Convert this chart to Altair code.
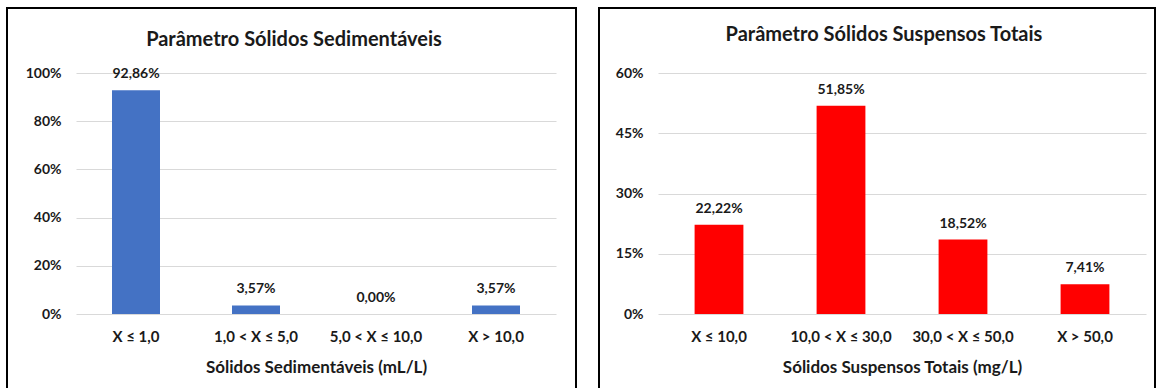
import altair as alt
import pandas as pd

# ---- data ----
title_left = "Parâmetro Sólidos Sedimentáveis"
cats_left = ["X ≤ 1,0", "1,0 < X ≤ 5,0", "5,0 < X ≤ 10,0", "X > 10,0"]
vals_left = [92.86, 3.57, 0.00, 3.57]
xtitle_left = "Sólidos Sedimentáveis (mL/L)"
yticks_left = [0, 0.2, 0.4, 0.6, 0.8, 1.0]

title_right = "Parâmetro Sólidos Suspensos Totais"
cats_right = ["X ≤ 10,0", "10,0 < X ≤ 30,0", "30,0 < X ≤ 50,0", "X > 50,0"]
vals_right = [22.22, 51.85, 18.52, 7.41]
xtitle_right = "Sólidos Suspensos Totais (mg/L)"
yticks_right = [0, 0.15, 0.30, 0.45, 0.60]

FONT = "Lato"
TEXT = "#1a1a1a"
GRID = "#d9d9d9"


def panel(title, cats, vals, xtitle, yticks, color, w, h, frame, title_xy):
    df = pd.DataFrame({
        "cat": cats,
        "pct": [v / 100 for v in vals],
        "lbl": [f"{v:.2f}".replace(".", ",") + "%" for v in vals],
    })
    x = alt.X(
        "cat:N", sort=cats, title=xtitle,
        scale=alt.Scale(paddingInner=0.6, paddingOuter=0.3),
        axis=alt.Axis(labelAngle=0, labelFont=FONT, labelFontSize=15,
                      labelFontWeight="bold", labelColor=TEXT, labelPadding=15,
                      ticks=False, tickSize=0, domain=False, grid=False,
                      titleFont=FONT, titleFontSize=17, titleFontWeight="bold",
                      titleColor=TEXT, titlePadding=15),
    )
    y = alt.Y(
        "pct:Q",
        scale=alt.Scale(domain=[0, yticks[-1]], nice=False, zero=True),
        axis=alt.Axis(values=yticks, format=".0%", title=None, labelFont=FONT,
                      labelFontSize=14, labelFontWeight="bold", labelColor=TEXT,
                      labelPadding=15, ticks=False, tickSize=0, domain=False,
                      gridColor=GRID, gridWidth=1),
    )
    base = alt.Chart(df).encode(x=x, y=y)
    bars = base.mark_bar(color=color)
    labels = base.mark_text(dy=-16, baseline="middle", font=FONT, fontSize=14,
                            fontWeight="bold", color=TEXT).encode(text="lbl:N")

    tdf = pd.DataFrame({"t": [title]})
    ttl = alt.Chart(tdf).mark_text(
        font=FONT, fontSize=20, fontWeight="bold", color=TEXT,
        align="center", baseline="middle",
    ).encode(x=alt.value(title_xy[0]), y=alt.value(title_xy[1]), text="t:N")

    fl, fr, ft, fb = frame
    one = pd.DataFrame({"k": [0]})
    rule = dict(color="black", strokeWidth=2)
    top = alt.Chart(one).mark_rule(**rule).encode(
        x=alt.value(fl - 1), x2=alt.value(fr + 1), y=alt.value(ft))
    lft = alt.Chart(one).mark_rule(**rule).encode(
        x=alt.value(fl), y=alt.value(ft), y2=alt.value(fb))
    rgt = alt.Chart(one).mark_rule(**rule).encode(
        x=alt.value(fr), y=alt.value(ft), y2=alt.value(fb))
    return alt.layer(bars, labels, ttl, top, lft, rgt).properties(width=w, height=h)


left = panel(title_left, cats_left, vals_left, xtitle_left, yticks_left,
             "#4472C4", 480, 241, (-69, 500, -65, 315), (218, -33))
right = panel(title_right, cats_right, vals_right, xtitle_right, yticks_right,
              "#FF0000", 488, 241, (-59, 497, -65, 315), (226, -38))

chart = alt.hconcat(left, right, spacing=19).properties(
    padding={"left": 5, "top": 7, "right": 0, "bottom": 0},
    background="white",
).configure_view(stroke=None)

chart.save("out.html", embed_options={"renderer": "svg", "actions": False})
